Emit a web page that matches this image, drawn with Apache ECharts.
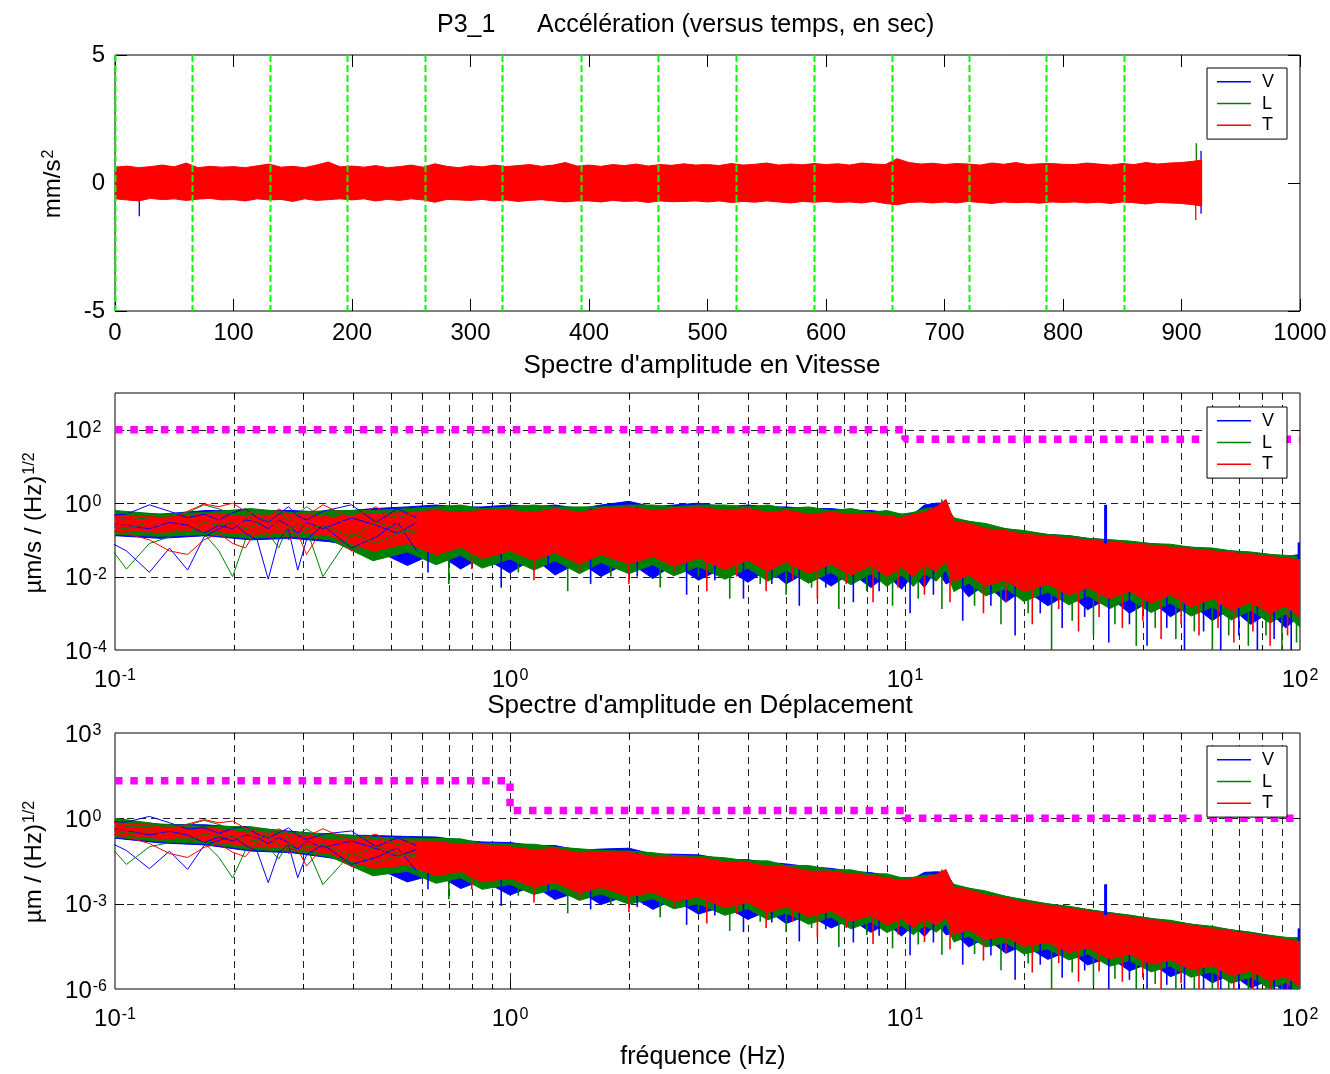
<!DOCTYPE html>
<html><head><meta charset="utf-8">
<script src="https://cdn.jsdelivr.net/npm/echarts@6/dist/echarts.min.js"></script>
<style>html,body{margin:0;padding:0;background:#fff}#c{width:1330px;height:1074px}</style>
</head><body><div id="c"></div>
<script>
const FONT = '"Liberation Sans", Arial, Helvetica, sans-serif';
const C_V = '#0000FF', C_L = '#008000', C_T = '#FF0000', C_LIM = '#FF00FF', C_SEG = '#00FF00';

// ---------------- top panel : acceleration vs time ----------------
const accTime = [0,10,20,30,40,50,60,70,80,90,100,110,120,130,140,150,160,170,180,190,200,210,220,230,240,250,260,270,280,290,300,310,320,330,340,350,360,370,380,390,400,410,420,430,440,450,460,470,480,490,500,510,520,530,540,550,560,570,580,590,600,610,620,630,640,650,660,670,680,690,700,710,720,730,740,750,760,770,780,790,800,810,820,830,840,850,860,870,880,890,900,910,917];
const accUpper = [0.62,0.66,0.6,0.64,0.7,0.63,0.78,0.6,0.65,0.62,
  0.64,0.6,0.67,0.74,0.62,0.65,0.6,0.7,0.82,0.63,
  0.66,0.62,0.68,0.6,0.64,0.7,0.62,0.75,0.65,0.6,
  0.67,0.63,0.7,0.64,0.68,0.72,0.65,0.7,0.8,0.66,
  0.7,0.65,0.72,0.68,0.74,0.66,0.72,0.69,0.75,0.7,
  0.72,0.68,0.76,0.7,0.73,0.78,0.7,0.74,0.71,0.76,
  0.72,0.75,0.7,0.78,0.74,0.72,0.95,0.8,0.74,0.77,
  0.72,0.76,0.74,0.7,0.78,0.73,0.8,0.72,0.75,0.76,
  0.73,0.72,0.78,0.74,0.7,0.76,0.72,0.8,0.74,0.78,
  0.8,0.85,0.9];
const accLower = [-0.62,-0.66,-0.7,-0.6,-0.65,-0.62,-0.68,-0.63,-0.6,-0.66,
  -0.65,-0.7,-0.62,-0.66,-0.64,-0.72,-0.62,-0.68,-0.65,-0.62,
  -0.66,-0.62,-0.7,-0.64,-0.68,-0.62,-0.66,-0.75,-0.64,-0.66,
  -0.68,-0.64,-0.7,-0.66,-0.72,-0.68,-0.65,-0.7,-0.74,-0.7,
  -0.7,-0.74,-0.68,-0.72,-0.7,-0.76,-0.7,-0.73,-0.72,-0.7,
  -0.74,-0.7,-0.76,-0.72,-0.75,-0.7,-0.74,-0.78,-0.72,-0.75,
  -0.72,-0.76,-0.74,-0.78,-0.72,-0.8,-0.85,-0.76,-0.74,-0.78,
  -0.74,-0.78,-0.72,-0.76,-0.8,-0.74,-0.77,-0.75,-0.79,-0.74,
  -0.76,-0.74,-0.78,-0.75,-0.8,-0.74,-0.77,-0.82,-0.76,-0.78,
  -0.8,-0.85,-0.9];
const segmentStarts = [0, 65, 130.5, 196, 261.5, 327, 393, 458.5, 524, 589.5, 655.3, 720.5, 786, 851.5];
const accSpikesV = [[20.5, -1.3, 0.3], [916.5, -1.2, 1.25]];
const accSpikesL = [[912.5, -0.6, 1.55]];
const accSpikesT = [[912, -1.45, 0.8]];
const timeTicks = {min: 0, max: 1000, step: 100};
const accTicks = {min: -5, max: 5, step: 5};

// ---------------- spectra : shared frequency grids ----------------
const freqLow = [0.0916, 0.1069, 0.1222, 0.1374, 0.1527, 0.1680, 0.1832, 0.1985, 0.2138, 0.2290, 0.2443, 0.2596, 0.2748, 0.2901, 0.3054, 0.3359, 0.3969, 0.4580, 0.5191, 0.5802];
const freqBand = [0.1, 0.13, 0.17, 0.22, 0.28, 0.35, 0.45, 0.55, 0.65, 0.75, 0.85, 1.0, 1.15, 1.3, 1.5, 1.7, 2.0, 2.3, 2.6, 3.0, 3.5, 4.0, 4.5, 5.0, 5.7, 6.5, 7.3, 8.2, 9.0, 9.8, 10.5, 11.2, 12.0, 12.7, 13.3, 14.5, 16, 18, 20, 23, 26, 29, 33, 37, 42, 47, 53, 60, 67, 75, 84, 92, 100];
const spikeFreqV = [0.62, 0.95, 1.25, 1.6, 2.1, 2.8, 3.3, 3.9, 4.6, 5.4, 6.3, 7.4, 8.6, 10.3, 11.8, 14, 16.5, 19, 22, 25, 28.5, 32.8, 37, 41, 46, 51, 57, 63, 70, 78, 86, 95];
const spikeFreqL = [0.7, 1.05, 1.4, 1.8, 2.4, 3.0, 3.6, 4.3, 5.0, 5.8, 6.8, 8.0, 9.3, 10.8, 12.4, 15, 17.5, 20.5, 23.5, 26.5, 30, 34, 38.5, 43, 48.5, 54, 60, 66, 74, 82, 90, 98];
const spikeFreqT = [0.8, 1.15, 1.5, 2.0, 2.6, 3.15, 3.75, 4.45, 5.2, 6.0, 7.1, 8.3, 9.6, 11.2, 13.0, 15.8, 18, 21, 24.5, 27.5, 31, 35.5, 40, 44.5, 50, 55.5, 62, 68, 76, 84, 93];
const vGridMinor = [0.2,0.3,0.4,0.5,0.6,0.7,0.8,0.9,2,3,4,5,6,7,8,9,20,30,40,50,60,70,80,90];
const vGridMajor = [1, 10];
const freqRange = {min: 0.1, max: 100};

// ---------------- velocity spectrum (µm/s/√Hz) ----------------
const velLowV1 = [0.45, 0.5, 0.9, 0.6, 0.4, 0.5, 0.35, 0.55, 0.7, 0.4, 0.3, 0.5, 0.8, 0.45, 0.35, 0.6, 0.9, 0.3, 0.7, 0.4];
const velLowV2 = [0.12, 0.05, 0.013, 0.06, 0.015, 0.12, 0.2, 0.3, 0.15, 0.1, 0.0085, 0.1, 0.2, 0.015, 0.1, 0.25, 0.06, 0.12, 0.3, 0.05];
const velLowV3 = [0.3, 0.25, 0.2, 0.3, 0.25, 0.15, 0.25, 0.2, 0.35, 0.3, 0.2, 0.35, 0.25, 0.15, 0.3, 0.2, 0.4, 0.25, 0.15, 0.3];
const velLowL1 = [0.6, 0.35, 0.4, 0.5, 0.55, 0.9, 0.7, 0.5, 0.45, 0.3, 0.5, 0.6, 0.35, 0.5, 0.8, 0.4, 0.5, 0.6, 0.4, 0.55];
const velLowL2 = [0.15, 0.016, 0.08, 0.12, 0.2, 0.15, 0.05, 0.01, 0.1, 0.2, 0.15, 0.06, 0.25, 0.12, 0.2, 0.01, 0.15, 0.08, 0.15, 0.2];
const velLowL3 = [0.25, 0.2, 0.3, 0.2, 0.15, 0.3, 0.25, 0.3, 0.2, 0.25, 0.35, 0.2, 0.15, 0.3, 0.2, 0.25, 0.12, 0.3, 0.2, 0.15];
const velLowT1 = [0.5, 0.4, 0.45, 0.35, 0.6, 0.95, 0.8, 1.0, 0.6, 0.5, 0.4, 0.7, 0.5, 0.35, 0.45, 0.9, 0.4, 0.8, 0.3, 0.6];
const velLowT2 = [0.2, 0.15, 0.1, 0.05, 0.04, 0.1, 0.15, 0.08, 0.06, 0.2, 0.12, 0.25, 0.1, 0.15, 0.04, 0.2, 0.05, 0.1, 0.25, 0.08];
const velLowT3 = [0.3, 0.25, 0.3, 0.2, 0.22, 0.35, 0.3, 0.25, 0.3, 0.35, 0.25, 0.3, 0.2, 0.3, 0.25, 0.35, 0.3, 0.2, 0.3, 0.35];
const velBlueHi = [0.56, 0.5, 0.63, 0.63, 0.63, 0.56, 0.71, 0.79, 0.89, 0.79, 0.79, 0.89, 0.79, 0.89, 0.71, 0.89, 1.12, 0.79, 0.89, 1.0, 0.79, 0.89, 0.79, 0.79, 0.71, 0.71, 0.63, 0.63, 0.56, 0.5, 0.5, 0.89, 1.0, 1.0, 0.35, 0.32, 0.25, 0.2, 0.17, 0.14, 0.13, 0.11, 0.1, 0.089, 0.079, 0.071, 0.063, 0.056, 0.05, 0.045, 0.04, 0.035, 0.04];
const velBlueLo = [0.13, 0.11, 0.13, 0.1, 0.11, 0.089, 0.056, 0.02, 0.045, 0.016, 0.035, 0.0125, 0.032, 0.011, 0.025, 0.01, 0.025, 0.0088, 0.022, 0.008, 0.018, 0.007, 0.016, 0.0063, 0.014, 0.0055, 0.0126, 0.005, 0.0113, 0.0045, 0.0113, 0.005, 0.016, 0.0063, 0.0082, 0.0028, 0.0063, 0.002, 0.0045, 0.0016, 0.0035, 0.00125, 0.0028, 0.001, 0.0022, 0.0008, 0.0018, 0.00063, 0.0014, 0.0005, 0.0011, 0.0004, 0.00088];
const velGreenHi = [0.63, 0.5, 0.56, 0.71, 0.56, 0.63, 0.63, 0.71, 0.79, 0.89, 0.71, 0.79, 0.89, 0.79, 0.79, 0.79, 0.89, 0.89, 0.79, 0.89, 0.89, 0.79, 0.89, 0.71, 0.79, 0.63, 0.71, 0.56, 0.63, 0.5, 0.56, 0.71, 0.79, 0.89, 0.4, 0.32, 0.28, 0.2, 0.18, 0.14, 0.13, 0.11, 0.1, 0.093, 0.079, 0.076, 0.063, 0.06, 0.05, 0.047, 0.04, 0.038, 0.035];
const velGreenLo = [0.14, 0.125, 0.14, 0.11, 0.125, 0.1, 0.027, 0.047, 0.021, 0.038, 0.017, 0.03, 0.015, 0.027, 0.012, 0.024, 0.012, 0.021, 0.0105, 0.019, 0.0084, 0.017, 0.0075, 0.015, 0.0066, 0.013, 0.006, 0.012, 0.0054, 0.011, 0.0054, 0.012, 0.0075, 0.015, 0.0039, 0.0066, 0.003, 0.0047, 0.0021, 0.0038, 0.0017, 0.003, 0.00135, 0.0024, 0.00105, 0.0019, 0.00084, 0.0015, 0.00066, 0.0012, 0.00054, 0.00096, 0.00042];
const velRedHi = [0.45, 0.4, 0.5, 0.45, 0.5, 0.45, 0.5, 0.56, 0.63, 0.56, 0.63, 0.63, 0.56, 0.71, 0.56, 0.71, 0.79, 0.63, 0.71, 0.79, 0.63, 0.71, 0.56, 0.63, 0.5, 0.56, 0.5, 0.5, 0.45, 0.4, 0.5, 0.56, 0.79, 1.26, 0.32, 0.28, 0.2, 0.18, 0.14, 0.13, 0.11, 0.1, 0.089, 0.079, 0.071, 0.063, 0.056, 0.05, 0.045, 0.04, 0.035, 0.032, 0.028];
const velRedLo = [0.18, 0.16, 0.18, 0.14, 0.16, 0.13, 0.049, 0.079, 0.039, 0.063, 0.031, 0.05, 0.0275, 0.045, 0.022, 0.04, 0.022, 0.035, 0.019, 0.032, 0.0154, 0.028, 0.0138, 0.025, 0.012, 0.022, 0.011, 0.02, 0.0099, 0.018, 0.0099, 0.02, 0.0138, 0.025, 0.0072, 0.011, 0.0055, 0.0079, 0.0039, 0.0063, 0.0031, 0.005, 0.0025, 0.004, 0.0019, 0.0032, 0.0015, 0.0025, 0.0012, 0.002, 0.001, 0.0016, 0.00077];
const velSpikeDepthV = [0.013, 0.005, 0.016, 0.0063, 0.01, 0.0032, 0.0079, 0.0025, 0.0063, 0.0016, 0.005, 0.002, 0.004, 0.001, 0.0032, 6.3e-4, 0.0016, 2.5e-4, 0.001, 4e-4, 7.9e-4, 1.6e-4, 5e-4, 1.3e-4, 4e-4, 1e-4, 3.2e-4, 1e-4, 2.5e-4, 1e-4, 2e-4, 1e-4];
const velSpikeDepthL = [0.0063, 0.013, 0.004, 0.01, 0.005, 0.01, 0.0025, 0.0063, 0.0032, 0.005, 0.0013, 0.004, 0.0016, 0.0025, 0.0013, 0.0016, 5e-4, 0.001, 1e-4, 6.3e-4, 2.5e-4, 5e-4, 1.3e-4, 4e-4, 2e-4, 3.2e-4, 1e-4, 2.5e-4, 1.3e-4, 2.5e-4, 1e-4, 1.6e-4];
const velSpikeDepthT = [0.016, 0.0079, 0.013, 0.0063, 0.013, 0.004, 0.01, 0.004, 0.0079, 0.0025, 0.0063, 0.002, 0.005, 0.0032, 0.002, 0.001, 0.002, 5e-4, 0.0013, 3.2e-4, 7.9e-4, 4e-4, 6.3e-4, 2e-4, 5e-4, 2.5e-4, 4e-4, 1.6e-4, 3.2e-4, 1.3e-4, 2.5e-4];
const velPeakV = [[32.2, 0.08, 0.9], [99.5, 0.03, 0.085]];
const velLimitF = [0.1, 10, 10, 100];
const velLimitV = [100, 100, 55, 55];
const velHGrid = [0.01, 1, 100];
const velRange = {min: 1e-4, max: 1e3};

// ---------------- displacement spectrum (µm/√Hz) ----------------
const dispLowV1 = [0.78, 0.74, 1.17, 0.7, 0.42, 0.47, 0.3, 0.44, 0.52, 0.28, 0.2, 0.31, 0.46, 0.25, 0.18, 0.28, 0.36, 0.1, 0.21, 0.11];
const dispLowV2 = [0.21, 0.074, 0.017, 0.07, 0.016, 0.11, 0.17, 0.24, 0.11, 0.07, 0.0055, 0.061, 0.12, 0.0082, 0.052, 0.12, 0.024, 0.042, 0.092, 0.014];
const dispLowV3 = [0.52, 0.37, 0.26, 0.35, 0.26, 0.14, 0.22, 0.16, 0.26, 0.21, 0.13, 0.21, 0.14, 0.082, 0.16, 0.095, 0.16, 0.087, 0.046, 0.082];
const dispLowL1 = [1.04, 0.52, 0.52, 0.58, 0.57, 0.85, 0.61, 0.4, 0.34, 0.21, 0.33, 0.37, 0.2, 0.27, 0.42, 0.19, 0.2, 0.21, 0.12, 0.15];
const dispLowL2 = [0.26, 0.024, 0.1, 0.14, 0.21, 0.14, 0.043, 0.008, 0.074, 0.14, 0.098, 0.037, 0.14, 0.066, 0.1, 0.0047, 0.06, 0.028, 0.046, 0.055];
const dispLowL3 = [0.43, 0.3, 0.39, 0.23, 0.16, 0.28, 0.22, 0.24, 0.15, 0.17, 0.23, 0.12, 0.087, 0.16, 0.1, 0.12, 0.048, 0.1, 0.061, 0.041];
const dispLowT1 = [0.87, 0.6, 0.59, 0.41, 0.63, 0.9, 0.7, 0.8, 0.45, 0.35, 0.26, 0.43, 0.29, 0.19, 0.23, 0.43, 0.16, 0.28, 0.092, 0.16];
const dispLowT2 = [0.35, 0.22, 0.13, 0.058, 0.042, 0.095, 0.13, 0.064, 0.045, 0.14, 0.078, 0.15, 0.058, 0.082, 0.021, 0.095, 0.02, 0.035, 0.077, 0.022];
const dispLowT3 = [0.52, 0.37, 0.39, 0.23, 0.23, 0.33, 0.26, 0.2, 0.22, 0.24, 0.16, 0.18, 0.12, 0.16, 0.13, 0.17, 0.12, 0.069, 0.092, 0.096];
const dispBlueHi = [0.89, 0.62, 0.59, 0.46, 0.35, 0.26, 0.25, 0.23, 0.22, 0.17, 0.148, 0.141, 0.11, 0.11, 0.076, 0.083, 0.089, 0.055, 0.055, 0.052, 0.036, 0.035, 0.028, 0.025, 0.02, 0.0174, 0.0138, 0.0123, 0.01, 0.0081, 0.0076, 0.0126, 0.0132, 0.0126, 0.0043, 0.0035, 0.0025, 0.0018, 0.0013, 9.8e-4, 7.8e-4, 6.2e-4, 4.8e-4, 3.8e-4, 3e-4, 2.4e-4, 1.9e-4, 1.48e-4, 1.2e-4, 9.5e-5, 7.6e-5, 6.2e-5, 6.3e-5];
const dispBlueLo = [0.2, 0.137, 0.116, 0.071, 0.062, 0.041, 0.02, 0.0058, 0.011, 0.0034, 0.0066, 0.002, 0.0043, 0.0014, 0.0027, 9.3e-4, 0.002, 6.3e-4, 0.0014, 4.3e-4, 8.2e-4, 2.8e-4, 5.6e-4, 2e-4, 4e-4, 1.4e-4, 2.8e-4, 9.8e-5, 2e-4, 7.3e-5, 1.7e-4, 7e-5, 2.1e-4, 8e-5, 9.5e-5, 3e-5, 6.3e-5, 1.8e-5, 3.5e-5, 1.1e-5, 2.2e-5, 7e-6, 1.3e-5, 4.3e-6, 8.5e-6, 2.7e-6, 5.4e-6, 1.65e-6, 3.4e-6, 1.1e-6, 2.1e-6, 7e-7, 1.4e-6];
const dispGreenHi = [1.0, 0.62, 0.52, 0.51, 0.32, 0.29, 0.22, 0.2, 0.195, 0.19, 0.13, 0.126, 0.123, 0.098, 0.085, 0.074, 0.071, 0.062, 0.049, 0.047, 0.041, 0.032, 0.032, 0.022, 0.022, 0.0155, 0.0155, 0.011, 0.0112, 0.0081, 0.0085, 0.01, 0.0105, 0.0112, 0.0048, 0.0035, 0.0028, 0.0018, 0.0014, 9.8e-4, 8.1e-4, 6.2e-4, 4.8e-4, 4e-4, 3e-4, 2.6e-4, 1.9e-4, 1.6e-4, 1.2e-4, 1e-4, 7.6e-5, 6.6e-5, 5.6e-5];
const dispGreenLo = [0.22, 0.152, 0.13, 0.08, 0.069, 0.045, 0.0096, 0.0138, 0.0052, 0.0081, 0.0032, 0.0047, 0.0021, 0.0033, 0.0013, 0.0022, 9.6e-4, 0.0015, 6.6e-4, 0.001, 3.9e-4, 6.6e-4, 2.7e-4, 4.7e-4, 1.9e-4, 3.3e-4, 1.3e-4, 2.3e-4, 9.6e-5, 1.7e-4, 8.1e-5, 1.7e-4, 1e-4, 1.9e-4, 4.5e-5, 7.2e-5, 3e-5, 4.3e-5, 1.7e-5, 2.6e-5, 1.05e-5, 1.7e-5, 6.3e-6, 1e-5, 4e-6, 6.4e-6, 2.6e-6, 4e-6, 1.6e-6, 2.6e-6, 1e-6, 1.7e-6, 6.6e-7];
const dispRedHi = [0.71, 0.49, 0.47, 0.32, 0.28, 0.2, 0.18, 0.16, 0.155, 0.12, 0.117, 0.1, 0.078, 0.087, 0.06, 0.066, 0.063, 0.044, 0.044, 0.042, 0.029, 0.028, 0.02, 0.02, 0.014, 0.0138, 0.011, 0.0098, 0.0079, 0.0065, 0.0076, 0.0079, 0.0105, 0.016, 0.0038, 0.0031, 0.002, 0.0016, 0.0011, 8.7e-4, 6.9e-4, 5.5e-4, 4.3e-4, 3.4e-4, 2.7e-4, 2.1e-4, 1.7e-4, 1.3e-4, 1.1e-4, 8.5e-5, 6.8e-5, 5.5e-5, 4.5e-5];
const dispRedLo = [0.28, 0.195, 0.166, 0.102, 0.089, 0.058, 0.0176, 0.023, 0.0096, 0.0135, 0.0058, 0.0079, 0.0038, 0.0055, 0.0024, 0.0037, 0.0018, 0.0025, 0.0012, 0.0017, 7.2e-4, 0.0011, 4.9e-4, 7.9e-4, 3.5e-4, 5.5e-4, 2.4e-4, 3.9e-4, 1.8e-4, 2.9e-4, 1.5e-4, 2.8e-4, 1.8e-4, 3.2e-4, 8.3e-5, 1.2e-4, 5.5e-5, 7.1e-5, 3.1e-5, 4.4e-5, 1.9e-5, 2.8e-5, 1.15e-5, 1.7e-5, 7.4e-6, 1.07e-5, 4.7e-6, 6.6e-6, 3e-6, 4.3e-6, 1.9e-6, 2.8e-6, 1.2e-6];
const dispSpikeDepthV = [3.2e-3, 8.3e-4, 2e-3, 6.3e-4, 7.6e-4, 1.8e-4, 3.8e-4, 1e-4, 2.2e-4, 4.7e-5, 1.26e-4, 4.3e-5, 7.4e-5, 1.55e-5, 4.3e-5, 7.2e-6, 1.5e-5, 2.1e-6, 7.2e-6, 2.5e-6, 4.5e-6, 7.7e-7, 2.1e-6, 4.9e-7, 1.4e-6, 3.2e-7, 8.9e-7, 2.5e-7, 5.7e-7, 2e-7, 3.7e-7, 1.7e-7];
const dispSpikeDepthL = [1.44e-3, 1.9e-3, 4.6e-4, 8.9e-4, 3.3e-4, 5.3e-4, 1.1e-4, 2.3e-4, 1e-4, 1.4e-4, 3e-5, 7.9e-5, 2.7e-5, 3.7e-5, 1.6e-5, 1.7e-5, 4.6e-6, 7.8e-6, 6.8e-7, 3.8e-6, 1.3e-6, 2.3e-6, 5.2e-7, 1.5e-6, 6.6e-7, 9.3e-7, 2.6e-7, 6e-7, 2.7e-7, 4.9e-7, 1.8e-7, 2.6e-7];
const dispSpikeDepthT = [3.2e-3, 1.1e-3, 1.35e-3, 5e-4, 7.8e-4, 2e-4, 4.3e-4, 1.4e-4, 2.4e-4, 6.6e-5, 1.4e-4, 3.8e-5, 8.3e-5, 4.5e-5, 2.5e-5, 1e-5, 1.8e-5, 3.8e-6, 8.1e-6, 1.8e-6, 4.1e-6, 1.8e-6, 2.5e-6, 7.1e-7, 1.6e-6, 7.2e-7, 1e-6, 3.7e-7, 6.6e-7, 2.4e-7, 4.3e-7];
const dispPeakV = [[32.2, 4e-4, 4.8e-3], [99.5, 5e-5, 1.35e-4]];
const dispLimitF = [0.1, 1, 1, 10, 10, 100];
const dispLimitV = [21, 21, 1.9, 1.9, 1.0, 1.0];
const dispHGrid = [0.001, 1];
const dispRange = {min: 1e-6, max: 1e3};

// ---------------- helpers ----------------
function pairs(xs, ys) { return xs.map((x, i) => [x, ys[i]]); }

function bandSeries(name, color, xi, yi, xs, lo, hi, z) {
  return {
    type: 'custom', name, xAxisIndex: xi, yAxisIndex: yi, z, silent: true, clip: true,
    itemStyle: {color}, data: [[xs[0], lo[0]]],
    renderItem: function (params, api) {
      const pts = [];
      for (let i = 0; i < xs.length; i++) pts.push(api.coord([xs[i], hi[i]]));
      for (let i = xs.length - 1; i >= 0; i--) pts.push(api.coord([xs[i], lo[i]]));
      return {type: 'polygon', shape: {points: pts}, style: {fill: color, stroke: color, lineWidth: 1}};
    }
  };
}
function lineSeries(name, color, xi, yi, xs, ys, z) {
  return {type: 'line', name, xAxisIndex: xi, yAxisIndex: yi, data: pairs(xs, ys), symbol: 'none', showSymbol: false,
    lineStyle: {color, width: 1}, itemStyle: {color}, z, silent: true, clip: true};
}
// spikes hanging below the dense band: each goes from its depth up into the band (top taken from band array)
function spikeSeries(name, color, xi, yi, fs, depths, bandF, bandTop, z) {
  return {
    type: 'custom', name, xAxisIndex: xi, yAxisIndex: yi, z, silent: true, clip: true,
    itemStyle: {color}, data: pairs(fs, depths),
    renderItem: function (params, api) {
      const f = api.value(0);
      let best = 0, bd = Infinity;
      for (let i = 0; i < bandF.length; i++) { const d = Math.abs(Math.log(bandF[i] / f)); if (d < bd) { bd = d; best = i; } }
      const a = api.coord([f, api.value(1)]);
      const b = api.coord([f, bandTop[best]]);
      return {type: 'line', shape: {x1: a[0], y1: a[1], x2: b[0], y2: b[1]}, style: {stroke: color, lineWidth: 1.6}};
    }
  };
}
function segSeries(name, color, xi, yi, triples, width, z) {
  return {
    type: 'custom', name, xAxisIndex: xi, yAxisIndex: yi, z, silent: true, clip: true,
    itemStyle: {color}, data: triples,
    renderItem: function (params, api) {
      const a = api.coord([api.value(0), api.value(1)]);
      const b = api.coord([api.value(0), api.value(2)]);
      return {type: 'line', shape: {x1: a[0], y1: a[1], x2: b[0], y2: b[1]}, style: {stroke: color, lineWidth: width}};
    }
  };
}
function vGridSeries(xi, yi, xs, yRef, color, width, dash, tickLen, z) {
  return {
    type: 'custom', xAxisIndex: xi, yAxisIndex: yi, z, silent: true,
    data: xs.map(x => [x, yRef]),
    renderItem: function (params, api) {
      const x = Math.round(api.coord([api.value(0), api.value(1)])[0]) + 0.5;
      const cs = params.coordSys;
      const children = [{type: 'line', shape: {x1: x, y1: cs.y, x2: x, y2: cs.y + cs.height}, style: {stroke: color, lineWidth: width, lineDash: dash}}];
      if (tickLen) {
        children.push({type: 'line', shape: {x1: x, y1: cs.y + cs.height, x2: x, y2: cs.y + cs.height - tickLen}, style: {stroke: '#000', lineWidth: 1}});
        children.push({type: 'line', shape: {x1: x, y1: cs.y, x2: x, y2: cs.y + tickLen}, style: {stroke: '#000', lineWidth: 1}});
      }
      return {type: 'group', children};
    }
  };
}
function hGridSeries(xi, yi, ys, xRef, z) {
  return {
    type: 'custom', xAxisIndex: xi, yAxisIndex: yi, z, silent: true,
    data: ys.map(y => [xRef, y]),
    renderItem: function (params, api) {
      const y = Math.round(api.coord([api.value(0), api.value(1)])[1]) + 0.5;
      const cs = params.coordSys;
      return {type: 'group', children: [
        {type: 'line', shape: {x1: cs.x, y1: y, x2: cs.x + cs.width, y2: y}, style: {stroke: '#222', lineWidth: 1, lineDash: [7, 5]}},
        {type: 'line', shape: {x1: cs.x, y1: y, x2: cs.x + 9, y2: y}, style: {stroke: '#000', lineWidth: 1}},
        {type: 'line', shape: {x1: cs.x + cs.width - 9, y1: y, x2: cs.x + cs.width, y2: y}, style: {stroke: '#000', lineWidth: 1}}
      ]};
    }
  };
}
function limitSeries(xi, yi, xs, ys) {
  return {type: 'line', name: 'limit', xAxisIndex: xi, yAxisIndex: yi, data: pairs(xs, ys), symbol: 'none', showSymbol: false, z: 6, silent: true,
    lineStyle: {color: C_LIM, width: 7.5, type: [7.5, 7.8], cap: 'butt'}, itemStyle: {color: C_LIM}};
}

const richX = {
  b: {fontSize: 24, fontFamily: FONT, color: '#000', verticalAlign: 'bottom', lineHeight: 24},
  s: {fontSize: 16, fontFamily: FONT, color: '#000', verticalAlign: 'top', lineHeight: 16, padding: [0, 0, 25, 1]}
};
const richY = {
  b: {fontSize: 24, fontFamily: FONT, color: '#000', verticalAlign: 'bottom', lineHeight: 24},
  n: {fontSize: 16, fontFamily: FONT, color: '#000', verticalAlign: 'top', lineHeight: 16, padding: [0, 0, 18, 1]},
  p: {fontSize: 16, fontFamily: FONT, color: '#000', verticalAlign: 'top', lineHeight: 16, padding: [0, 5.5, 18, 1]}
};
function powLabelX(v) { const e = Math.round(Math.log10(v)); return '{b|10}{s|' + e + '}'; }
function powLabelY(v, step) {
  const e = Math.round(Math.log10(v));
  if (e % step !== 0) return '';
  return '{b|10}{' + (e < 0 ? 'n' : 'p') + '|' + e + '}';
}

const grids = [
  {left: 115, right: 30, top: 55, height: 256},
  {left: 115, right: 30, top: 393, height: 257},
  {left: 115, right: 30, top: 733, height: 256}
].map(g => Object.assign(g, {show: true, borderColor: '#000', borderWidth: 1, backgroundColor: 'transparent', containLabel: false}));

const plainLabel = {fontSize: 24, fontFamily: FONT, color: '#000'};
const tickIn = {inside: true, length: 12, lineStyle: {color: '#000', width: 1}};
const xAxes = [
  {type: 'value', gridIndex: 0, min: timeTicks.min, max: timeTicks.max, interval: timeTicks.step,
    axisLine: {show: false, onZero: false}, axisTick: tickIn, splitLine: {show: false},
    axisLabel: Object.assign({margin: 10, showMinLabel: true, showMaxLabel: true, formatter: v => String(v)}, plainLabel)},
  {type: 'value', gridIndex: 0, position: 'top', min: timeTicks.min, max: timeTicks.max, interval: timeTicks.step,
    axisLine: {show: false, onZero: false}, axisTick: tickIn, splitLine: {show: false}, axisLabel: {show: false}},
  {type: 'log', logBase: 10, gridIndex: 1, min: freqRange.min, max: freqRange.max,
    axisLine: {show: false, onZero: false}, axisTick: {show: false}, splitLine: {show: false}, minorTick: {show: false},
    axisLabel: {margin: 18, showMinLabel: true, showMaxLabel: true, formatter: powLabelX, rich: richX}},
  {type: 'log', logBase: 10, gridIndex: 2, min: freqRange.min, max: freqRange.max,
    axisLine: {show: false, onZero: false}, axisTick: {show: false}, splitLine: {show: false}, minorTick: {show: false},
    axisLabel: {margin: 18, showMinLabel: true, showMaxLabel: true, formatter: powLabelX, rich: richX}}
];
const yAxes = [
  {type: 'value', gridIndex: 0, min: accTicks.min, max: accTicks.max, interval: accTicks.step,
    axisLine: {show: false, onZero: false}, axisTick: tickIn, splitLine: {show: false},
    axisLabel: Object.assign({margin: 10}, plainLabel)},
  {type: 'value', gridIndex: 0, position: 'right', min: accTicks.min, max: accTicks.max, interval: accTicks.step,
    axisLine: {show: false, onZero: false}, axisTick: tickIn, splitLine: {show: false}, axisLabel: {show: false}},
  {type: 'log', logBase: 10, gridIndex: 1, min: velRange.min, max: velRange.max,
    axisLine: {show: false, onZero: false}, axisTick: {show: false}, splitLine: {show: false},
    axisLabel: {margin: 8, padding: [4, 0, 0, 0], showMinLabel: true, showMaxLabel: true, rich: richY, formatter: v => powLabelY(v, 2)}},
  {type: 'log', logBase: 10, gridIndex: 2, min: dispRange.min, max: dispRange.max,
    axisLine: {show: false, onZero: false}, axisTick: {show: false}, splitLine: {show: false},
    axisLabel: {margin: 8, padding: [4, 0, 0, 0], showMinLabel: true, showMaxLabel: true, rich: richY, formatter: v => powLabelY(v, 3)}}
];

const series = [];
// top panel
series.push(segSeries('V', C_V, 0, 0, accSpikesV, 1.3, 2));
series.push(segSeries('L', C_L, 0, 0, accSpikesL, 1.3, 2));
series.push(bandSeries('T', C_T, 0, 0, accTime, accLower, accUpper, 3));
series.push(segSeries('T', C_T, 0, 0, accSpikesT, 1.3, 3));
series.push(vGridSeries(0, 0, segmentStarts, 0, C_SEG, 2, [7, 3], 0, 5));

function spectrumPanel(ai, d) {
  series.push(vGridSeries(ai, ai, vGridMinor, 1, '#222', 1, [7, 5], 5, 1));
  series.push(vGridSeries(ai, ai, vGridMajor, 1, '#222', 1, [7, 5], 9, 1));
  series.push(hGridSeries(ai, ai, d.hGrid, 1, 1));
  series.push(bandSeries('V', C_V, ai, ai, freqBand, d.blueLo, d.blueHi, 2));
  series.push(bandSeries('L', C_L, ai, ai, freqBand, d.greenLo, d.greenHi, 2));
  series.push(spikeSeries('V', C_V, ai, ai, spikeFreqV, d.spikeV, freqBand, d.redHi, 2));
  series.push(spikeSeries('L', C_L, ai, ai, spikeFreqL, d.spikeL, freqBand, d.redHi, 2));
  series.push(spikeSeries('T', C_T, ai, ai, spikeFreqT, d.spikeT, freqBand, d.redHi, 2));
  series.push(bandSeries('T', C_T, ai, ai, freqBand, d.redLo, d.redHi, 2));
  d.lowV.forEach(a => series.push(lineSeries('V', C_V, ai, ai, freqLow, a, 3)));
  d.lowL.forEach(a => series.push(lineSeries('L', C_L, ai, ai, freqLow, a, 3)));
  d.lowT.forEach(a => series.push(lineSeries('T', C_T, ai, ai, freqLow, a, 3)));
  series.push(segSeries('V', C_V, ai, ai, d.peak, 3, 3));
  series.push(limitSeries(ai, ai, d.limF, d.limV));
}
spectrumPanel(2, {hGrid: velHGrid, blueLo: velBlueLo, blueHi: velBlueHi, greenLo: velGreenLo, greenHi: velGreenHi, redLo: velRedLo, redHi: velRedHi,
  spikeV: velSpikeDepthV, spikeL: velSpikeDepthL, spikeT: velSpikeDepthT,
  lowV: [velLowV1, velLowV2, velLowV3], lowL: [velLowL1, velLowL2, velLowL3], lowT: [velLowT1, velLowT2, velLowT3],
  peak: velPeakV, limF: velLimitF, limV: velLimitV});
spectrumPanel(3, {hGrid: dispHGrid, blueLo: dispBlueLo, blueHi: dispBlueHi, greenLo: dispGreenLo, greenHi: dispGreenHi, redLo: dispRedLo, redHi: dispRedHi,
  spikeV: dispSpikeDepthV, spikeL: dispSpikeDepthL, spikeT: dispSpikeDepthT,
  lowV: [dispLowV1, dispLowV2, dispLowV3], lowL: [dispLowL1, dispLowL2, dispLowL3], lowT: [dispLowT1, dispLowT2, dispLowT3],
  peak: dispPeakV, limF: dispLimitF, limV: dispLimitV});

function legendAt(top) {
  return {data: ['V', 'L', 'T'], orient: 'vertical', left: 1207, top, selectedMode: false, align: 'left',
    icon: 'rect', itemWidth: 34, itemHeight: 1.5, itemGap: 0, padding: [3, 13, 3, 10],
    borderColor: '#000', borderWidth: 1, backgroundColor: '#fff', z: 20,
    textStyle: {fontSize: 18, fontFamily: FONT, color: '#000', lineHeight: 21.7, padding: [0, 0, 0, 6]}};
}

const supRich = {
  a: {fontSize: 24, fontFamily: FONT, fill: '#000', verticalAlign: 'bottom', lineHeight: 24},
  s: {fontSize: 16, fontFamily: FONT, fill: '#000', verticalAlign: 'top', lineHeight: 16, padding: [0, 0, 18, 1]}
};
function txt(text, x, y, size, align) {
  return {type: 'text', x, y, z: 30, style: {text, fontSize: size, fontFamily: FONT, fill: '#000', align: align || 'center', verticalAlign: 'middle'}};
}
function rotTxt(text, x, y) {
  return {type: 'text', x, y, rotation: Math.PI / 2, z: 30, style: {text, rich: supRich, align: 'center', verticalAlign: 'middle'}};
}

const option = {
  animation: false,
  backgroundColor: '#fff',
  grid: grids,
  xAxis: xAxes,
  yAxis: yAxes,
  legend: [legendAt(68), legendAt(407), legendAt(746)],
  series,
  graphic: [
    txt('P3_1', 437, 25, 25, 'left'),
    txt('Accélération (versus temps, en sec)', 537, 25, 25, 'left'),
    txt("Spectre d'amplitude en Vitesse", 702, 366, 26),
    txt("Spectre d'amplitude en Déplacement", 700, 706, 26),
    txt('fréquence (Hz)', 703, 1057, 25),
    rotTxt('{a|mm/s}{s|2}', 53, 184),
    rotTxt('{a|µm/s / (Hz)}{s|1/2}', 34, 523),
    rotTxt('{a|µm / (Hz)}{s|1/2}', 34, 862)
  ]
};
const chart = echarts.init(document.getElementById('c'), null, {renderer: 'canvas'});
chart.setOption(option);
</script></body></html>
